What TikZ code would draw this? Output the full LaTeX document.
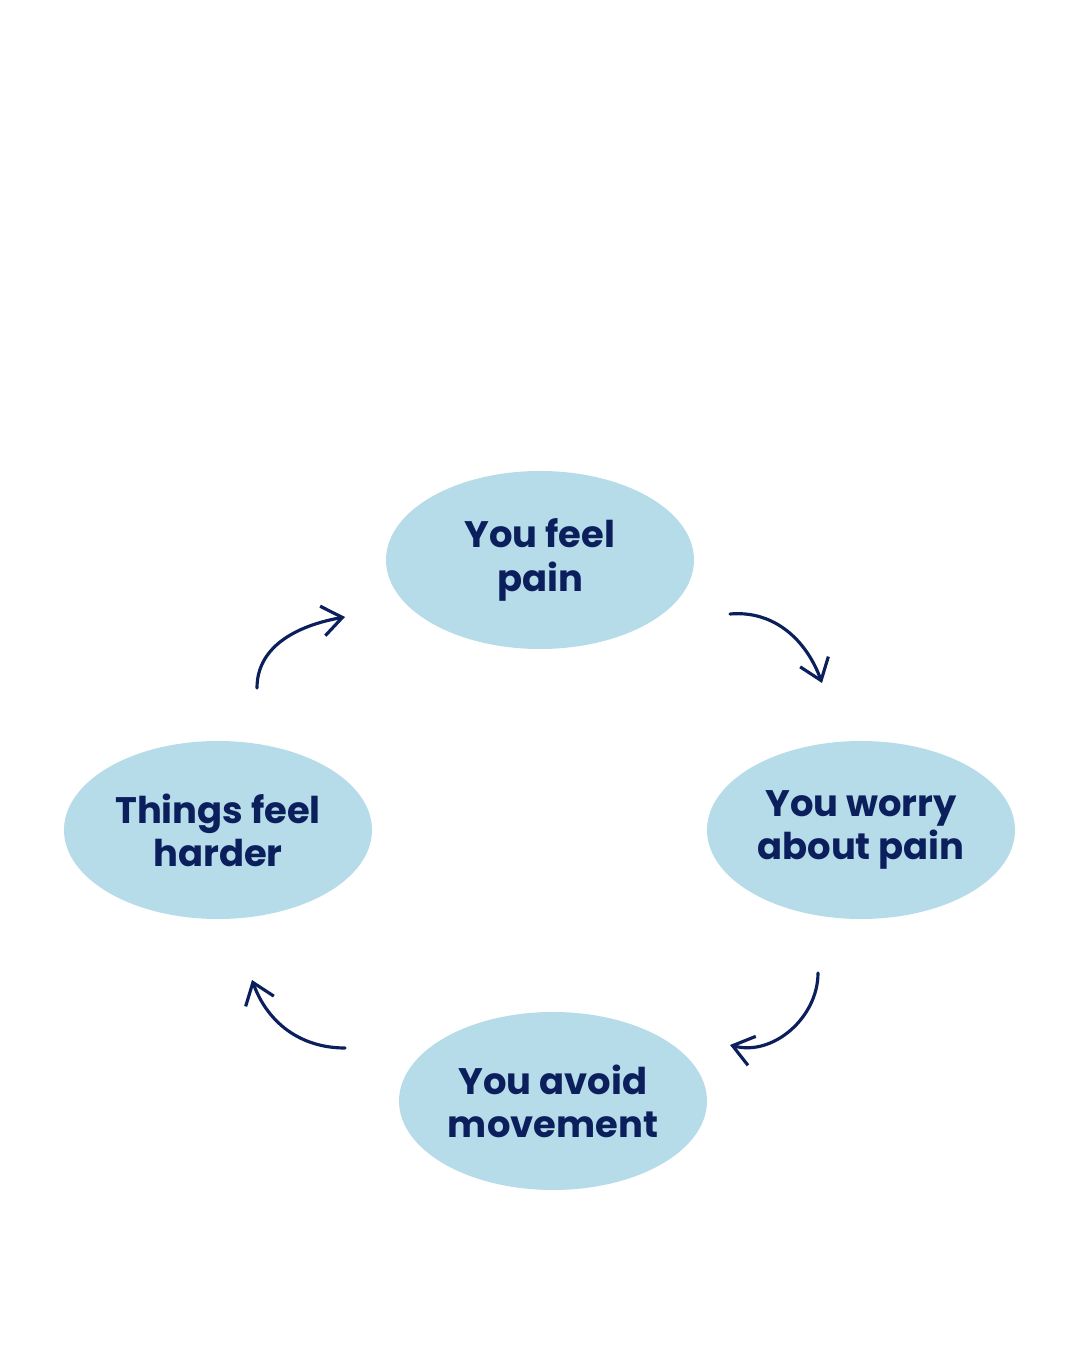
\documentclass[tikz,border=0pt]{standalone}
\usepackage{fontspec}
\setmainfont{Poppins}
\usetikzlibrary{shapes.geometric,arrows.meta}
\definecolor{bubble}{HTML}{B5DCE8}
\definecolor{navy}{HTML}{0B1F5C}
\tikzset{
  stage/.style={ellipse, fill=bubble, minimum width=3.08cm, minimum height=1.78cm,
    align=center, text=navy, font=\bfseries\fontsize{10.5pt}{12.3pt}\selectfont, inner sep=0pt},
  loopline/.style={draw=navy, line width=0.9pt, line cap=round, -{Straight Barb[length=2mm,width=3mm]}}
}
\begin{document}
\begin{tikzpicture}
\useasboundingbox (0,0) rectangle (10.8,13.5);
\node[stage] (pain) at (5.40,7.90) {You feel\\pain};
\node[stage] (worry) at (8.61,5.20) {You worry\\about pain};
\node[stage] (avoid) at (5.53,2.49) {You avoid\\movement};
\node[stage] (hard) at (2.18,5.20) {Things feel\\harder};
% loose ends of the curved arrows
\coordinate (a1) at (7.30,7.36);
\coordinate (b1) at (8.22,6.67);
\coordinate (a2) at (8.18,3.77);
\coordinate (b2) at (7.30,3.05);
\coordinate (a3) at (3.45,3.02);
\coordinate (b3) at (2.52,3.70);
\coordinate (a4) at (2.57,6.62);
\coordinate (b4) at (3.45,7.33);
\draw[loopline] (a1) to[out=5,in=110] (b1);
\draw[loopline] (a2) to[out=-90,in=-15] (b2);
\draw[loopline] (a3) to[out=180,in=-70] (b3);
\draw[loopline] (a4) to[out=90,in=190] (b4);
\end{tikzpicture}
\end{document}
